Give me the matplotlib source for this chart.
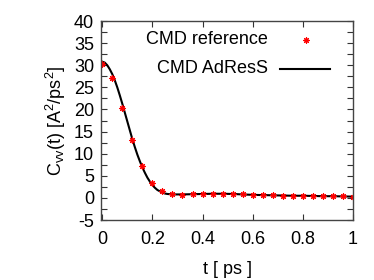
import numpy as np
import matplotlib
matplotlib.use("Agg")
import matplotlib.pyplot as plt
from matplotlib.ticker import MultipleLocator

plt.rcParams["font.family"] = ["Liberation Sans", "DejaVu Sans"]
plt.rcParams["mathtext.fontset"] = "custom"
plt.rcParams["mathtext.rm"] = "Liberation Sans"
plt.rcParams["mathtext.it"] = "Liberation Sans"
plt.rcParams["axes.unicode_minus"] = False

# CMD reference (markers)
t_ref = [0.00, 0.04, 0.08, 0.12, 0.16, 0.20, 0.24, 0.28, 0.32, 0.36, 0.40, 0.44, 0.48,
         0.52, 0.56, 0.60, 0.64, 0.68, 0.72, 0.76, 0.80, 0.84, 0.88, 0.92, 0.96, 1.00]
c_ref = [30.3, 27.2, 20.3, 13.0, 7.2, 3.4, 1.5, 0.8, 0.7, 0.8, 0.9, 1.0, 1.0,
         0.9, 0.8, 0.7, 0.6, 0.6, 0.5, 0.5, 0.5, 0.5, 0.4, 0.4, 0.4, 0.3]

# CMD AdResS (line)
t_adr = [0.00, 0.01, 0.02, 0.03, 0.04, 0.05, 0.06, 0.07, 0.08, 0.09, 0.10, 0.11, 0.12,
         0.13, 0.14, 0.15, 0.16, 0.17, 0.18, 0.19, 0.20, 0.21, 0.22, 0.23, 0.24, 0.25,
         0.26, 0.27, 0.28, 0.30, 0.32, 0.36, 0.40, 0.44, 0.48, 0.52, 0.56, 0.60, 0.64,
         0.68, 0.72, 0.76, 0.80, 0.84, 0.88, 0.92, 0.96, 1.00]
c_adr = [30.8, 30.6, 30.0, 29.1, 28.0, 26.6, 25.0, 23.2, 21.3, 19.3, 17.3, 15.3, 13.3,
         11.5, 9.8, 8.3, 6.9, 5.7, 4.6, 3.7, 2.9, 2.3, 1.8, 1.5, 1.2, 1.0,
         0.9, 0.85, 0.8, 0.8, 0.8, 0.85, 0.9, 0.95, 0.95, 0.9, 0.8, 0.7, 0.65,
         0.6, 0.55, 0.5, 0.5, 0.45, 0.4, 0.4, 0.35, 0.3]

FS = 13

fig = plt.figure(figsize=(3.74, 2.8), dpi=100)
ax = fig.add_axes([0.27, 0.214, 0.674, 0.711])

star = (8, 2, 0)
ax.plot(t_adr, c_adr, "k-", lw=1.5)
ax.plot(t_ref, c_ref, ls="none", marker=star, ms=4.5, mec="red", mew=0.8, color="red")

ax.set_xlim(-0.005, 1.0)
ax.set_ylim(-5, 40)
ax.set_xticks([0, 0.2, 0.4, 0.6, 0.8, 1.0])
ax.set_xticklabels(["0", "0.2", "0.4", "0.6", "0.8", "1"])
ax.yaxis.set_major_locator(MultipleLocator(5))
ax.yaxis.set_minor_locator(MultipleLocator(2.5))
ax.tick_params(which="both", direction="in", top=True, right=True, labelsize=FS,
               length=4, width=0.8, color="#333333", pad=5)
ax.tick_params(axis="x", pad=8)
for s in ax.spines.values():
    s.set_color("#444444")
    s.set_linewidth(1.0)

ax.set_xlabel("t [ ps ]", fontsize=FS, labelpad=9)
ax.set_ylabel(r"C$_{\rm vv}$(t) [A$^2$/ps$^2$]", fontsize=FS, labelpad=4)

# legend, gnuplot style: right-aligned text followed by sample
ax.text(0.663, 0.905, "CMD reference", transform=ax.transAxes, ha="right", va="center", fontsize=FS)
ax.plot([0.813], [0.905], transform=ax.transAxes, ls="none", marker=star, ms=4.5,
        mec="red", mew=0.8, clip_on=False)
ax.text(0.663, 0.76, "CMD AdResS", transform=ax.transAxes, ha="right", va="center", fontsize=FS)
ax.plot([0.71, 0.91], [0.76, 0.76], transform=ax.transAxes, color="k", lw=1.5)

fig.savefig("out.png", dpi=100)
